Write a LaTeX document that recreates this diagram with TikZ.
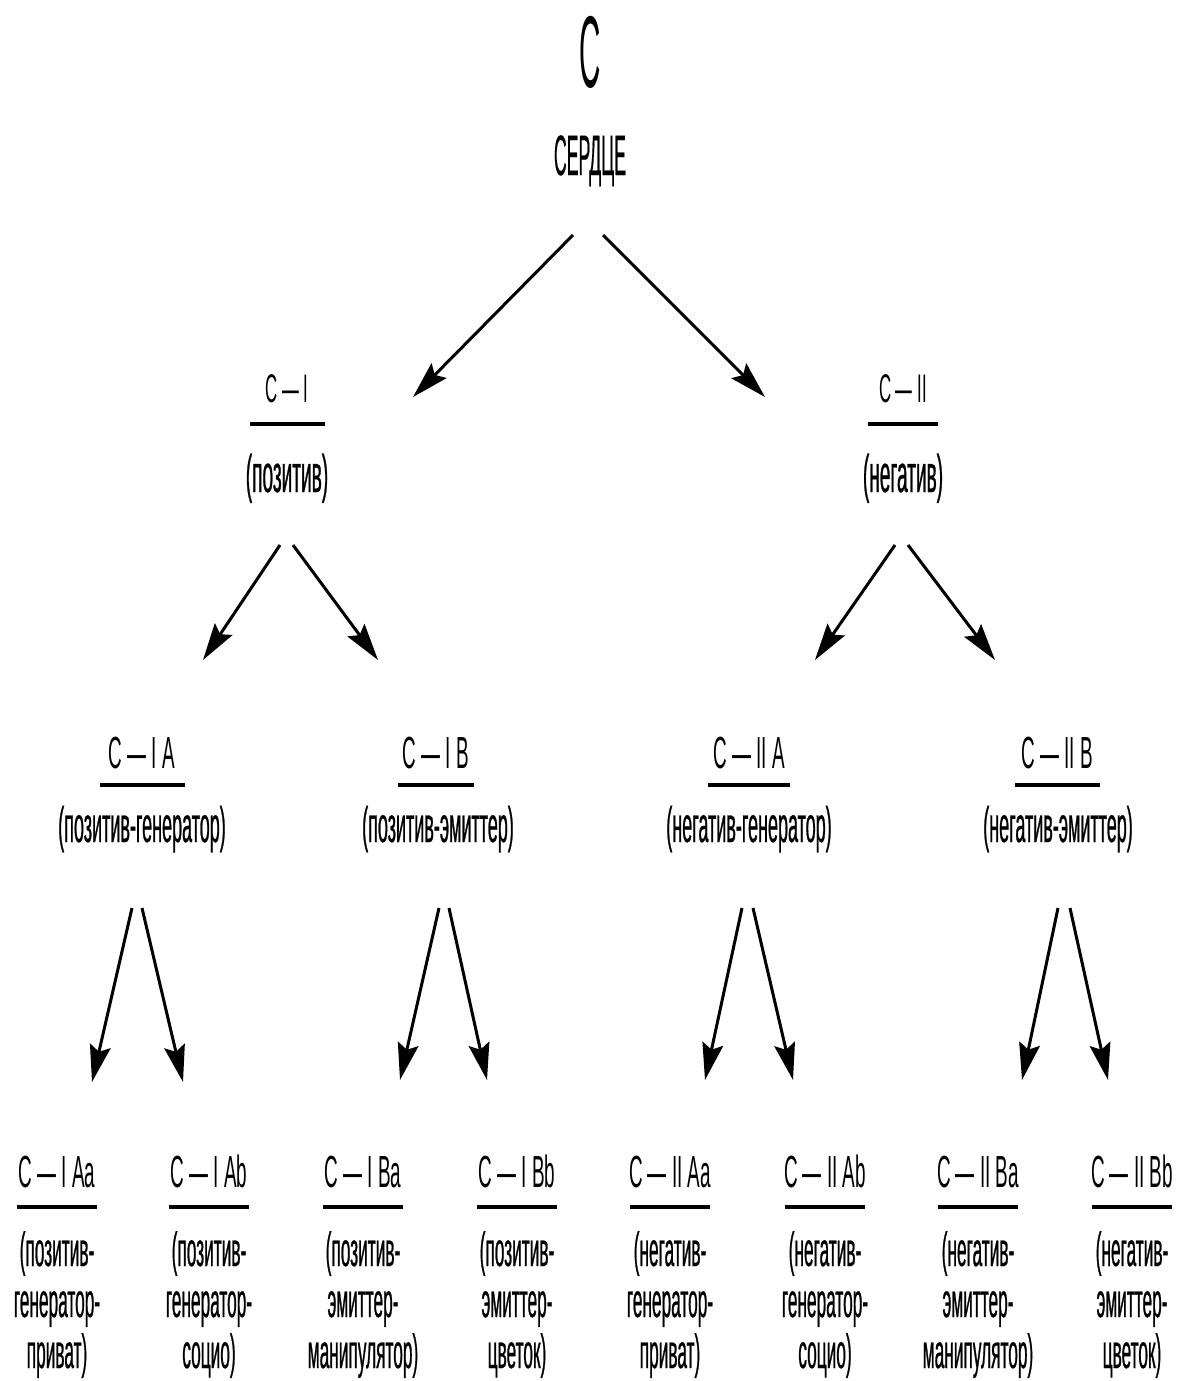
\documentclass[tikz,border=0pt]{standalone}
\usepackage{fontspec}
\setmainfont{Liberation Sans}
\newfontfamily\bigfont[FakeStretch=0.29]{Liberation Sans}
\newfontfamily\headfont[FakeStretch=0.31,FakeBold=0.3]{Liberation Sans}
\newfontfamily\labfont[FakeStretch=0.42]{Liberation Sans}
\newfontfamily\subfont[FakeStretch=0.36,FakeBold=0.5]{Liberation Sans}
\usetikzlibrary{arrows.meta}
\tikzset{
  lab/.style={inner sep=0pt, anchor=base, font=\labfont\fontsize{45}{50}\selectfont},
  toplab/.style={lab, font=\labfont\fontsize{40}{44}\selectfont},
  sub/.style={inner sep=0pt, anchor=base, align=center, font=\subfont\fontsize{50}{52}\selectfont},
  topsub/.style={sub, font=\subfont\fontsize{53}{56}\selectfont},
  leafsub/.style={sub, font=\subfont\fontsize{48}{51}\selectfont},
  bar/.style={line width=3.5pt},
  arr/.style={line width=3pt, -{Stealth[length=37pt,width=21pt,inset=6pt]}}
}
\begin{document}
\begin{tikzpicture}[x=1pt,y=1pt]
  \useasboundingbox (0,0) rectangle (1178,-1381);
  \node[inner sep=0pt,anchor=base,font=\bigfont\fontsize{102}{110}\selectfont] (c) at (590,-87) {С};
  \node[inner sep=0pt,anchor=base,font=\headfont\fontsize{57}{60}\selectfont] (heart) at (590,-175) {СЕРДЦЕ};

  % first level
  \node[toplab] (cI) at (287,-402) {С — I};
  \draw[bar] ([xshift=-37pt,yshift=-22pt]cI.base) -- ++(75,0);
  \node[topsub] (cIt) at (287,-492) {(позитив)};
  \node[toplab] (cII) at (903,-402) {С — II};
  \draw[bar] ([xshift=-35pt,yshift=-22pt]cII.base) -- ++(70,0);
  \node[topsub] (cIIt) at (903,-492) {(негатив)};
  \draw[arr] ([xshift=-17pt,yshift=-60pt]heart.base) -- ([xshift=126pt,yshift=5pt]cI.base);
  \draw[arr] ([xshift=13pt,yshift=-60pt]heart.base) -- ([xshift=-138pt,yshift=5pt]cII.base);

  % second level
  \node[lab] (cIA) at (142,-768) {С — I A};
  \draw[bar] ([xshift=-42pt,yshift=-17pt]cIA.base) -- ++(85,0);
  \node[sub] (cIAt) at (142,-842) {(позитив-генератор)};
  \node[lab] (cIB) at (436,-768) {С — I B};
  \draw[bar] ([xshift=-38pt,yshift=-17pt]cIB.base) -- ++(76,0);
  \node[sub] (cIBt) at (438,-842) {(позитив-эмиттер)};
  \node[lab] (cIIA) at (749,-768) {С — II A};
  \draw[bar] ([xshift=-41pt,yshift=-17pt]cIIA.base) -- ++(82,0);
  \node[sub] (cIIAt) at (749,-842) {(негатив-генератор)};
  \node[lab] (cIIB) at (1057,-768) {С — II B};
  \draw[bar] ([xshift=-42pt,yshift=-17pt]cIIB.base) -- ++(85,0);
  \node[sub] (cIIBt) at (1058,-842) {(негатив-эмиттер)};
  \draw[arr] ([xshift=-7pt,yshift=-53pt]cIt.base) -- ([xshift=61pt,yshift=108pt]cIA.base);
  \draw[arr] ([xshift=6pt,yshift=-53pt]cIt.base) -- ([xshift=-58pt,yshift=108pt]cIB.base);
  \draw[arr] ([xshift=-8pt,yshift=-53pt]cIIt.base) -- ([xshift=66pt,yshift=108pt]cIIA.base);
  \draw[arr] ([xshift=5pt,yshift=-53pt]cIIt.base) -- ([xshift=-62pt,yshift=108pt]cIIB.base);

  % third level (base of a leaf text is its last line)
  \node[lab] (cIAa) at (57,-1187) {С — I Aa};
  \draw[bar] ([xshift=-40pt,yshift=-20pt]cIAa.base) -- ++(80,0);
  \node[leafsub] (cIAat) at (57,-1368) {(позитив-\\генератор-\\приват)};
  \node[lab] (cIAb) at (209,-1187) {С — I Ab};
  \draw[bar] ([xshift=-40pt,yshift=-20pt]cIAb.base) -- ++(80,0);
  \node[leafsub] (cIAbt) at (209,-1368) {(позитив-\\генератор-\\социо)};
  \node[lab] (cIBa) at (363,-1187) {С — I Ba};
  \draw[bar] ([xshift=-40pt,yshift=-20pt]cIBa.base) -- ++(80,0);
  \node[leafsub] (cIBat) at (363,-1368) {(позитив-\\эмиттер-\\манипулятор)};
  \node[lab] (cIBb) at (517,-1187) {С — I Bb};
  \draw[bar] ([xshift=-40pt,yshift=-20pt]cIBb.base) -- ++(80,0);
  \node[leafsub] (cIBbt) at (517,-1368) {(позитив-\\эмиттер-\\цветок)};
  \node[lab] (cIIAa) at (670,-1187) {С — II Aa};
  \draw[bar] ([xshift=-40pt,yshift=-20pt]cIIAa.base) -- ++(80,0);
  \node[leafsub] (cIIAat) at (670,-1368) {(негатив-\\генератор-\\приват)};
  \node[lab] (cIIAb) at (825,-1187) {С — II Ab};
  \draw[bar] ([xshift=-40pt,yshift=-20pt]cIIAb.base) -- ++(80,0);
  \node[leafsub] (cIIAbt) at (825,-1368) {(негатив-\\генератор-\\социо)};
  \node[lab] (cIIBa) at (978,-1187) {С — II Ba};
  \draw[bar] ([xshift=-40pt,yshift=-20pt]cIIBa.base) -- ++(80,0);
  \node[leafsub] (cIIBat) at (978,-1368) {(негатив-\\эмиттер-\\манипулятор)};
  \node[lab] (cIIBb) at (1132,-1187) {С — II Bb};
  \draw[bar] ([xshift=-40pt,yshift=-20pt]cIIBb.base) -- ++(80,0);
  \node[leafsub] (cIIBbt) at (1132,-1368) {(негатив-\\эмиттер-\\цветок)};
  \draw[arr] ([xshift=-10pt,yshift=-66pt]cIAt.base) -- ([xshift=35pt,yshift=105pt]cIAa.base);
  \draw[arr] ([xshift=0pt,yshift=-66pt]cIAt.base) -- ([xshift=-26pt,yshift=105pt]cIAb.base);
  \draw[arr] ([xshift=1pt,yshift=-66pt]cIBt.base) -- ([xshift=37pt,yshift=107pt]cIBa.base);
  \draw[arr] ([xshift=11pt,yshift=-66pt]cIBt.base) -- ([xshift=-30pt,yshift=107pt]cIBb.base);
  \draw[arr] ([xshift=-7pt,yshift=-66pt]cIIAt.base) -- ([xshift=35pt,yshift=107pt]cIIAa.base);
  \draw[arr] ([xshift=4pt,yshift=-66pt]cIIAt.base) -- ([xshift=-32pt,yshift=107pt]cIIAb.base);
  \draw[arr] ([xshift=0pt,yshift=-66pt]cIIBt.base) -- ([xshift=44pt,yshift=107pt]cIIBa.base);
  \draw[arr] ([xshift=12pt,yshift=-66pt]cIIBt.base) -- ([xshift=-24pt,yshift=107pt]cIIBb.base);
\end{tikzpicture}
\end{document}
